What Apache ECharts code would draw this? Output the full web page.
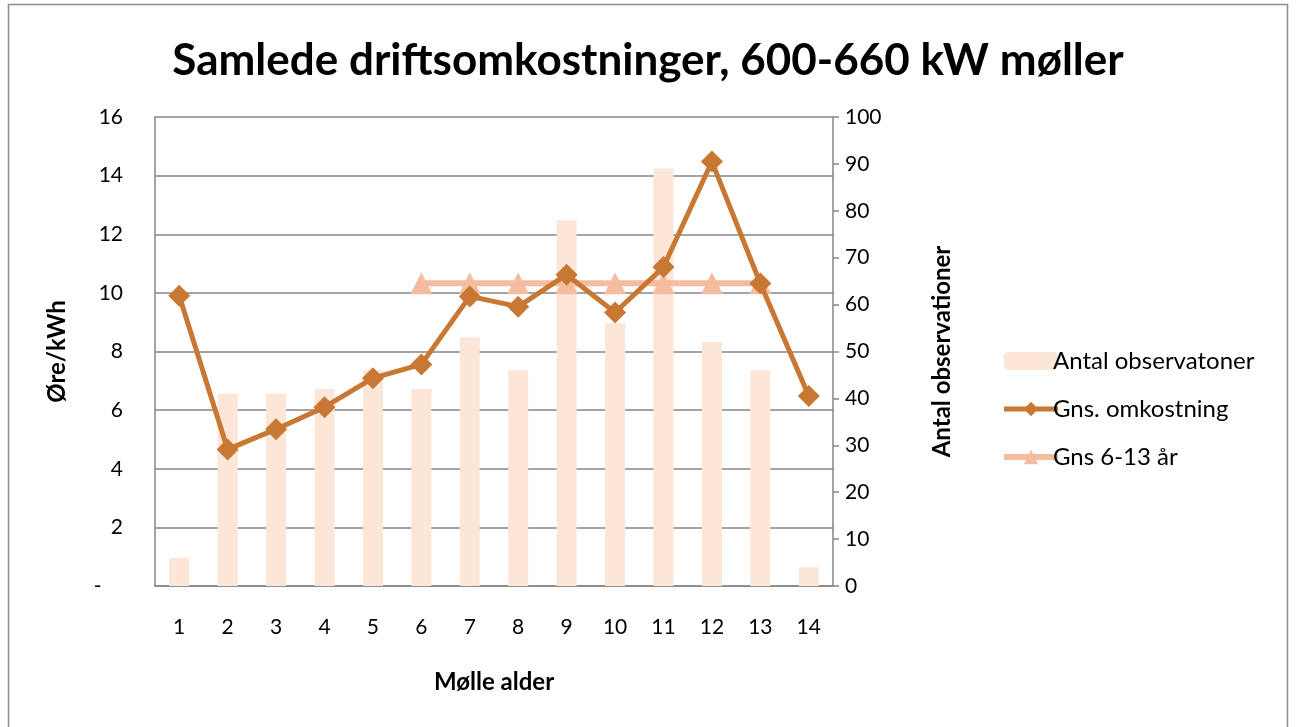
<!DOCTYPE html>
<html>
<head>
<meta charset="utf-8">
<script src="https://cdn.jsdelivr.net/npm/echarts@6/dist/echarts.min.js"></script>
<style>
  html, body { margin: 0; padding: 0; background: #fff; }
  #chart { width: 1296px; height: 727px; }
</style>
</head>
<body>
<div id="chart"></div>
<script>
// Mølle alder (år)
var ages = ['1', '2', '3', '4', '5', '6', '7', '8', '9', '10', '11', '12', '13', '14'];
// Antal observationer (højre akse)
var antalObs = [6, 41, 41, 42, 46, 42, 53, 46, 78, 56, 89, 52, 46, 4];
// Gns. omkostning, øre/kWh (venstre akse)
var gnsOmk = [9.9, 4.66, 5.35, 6.1, 7.09, 7.56, 9.88, 9.53, 10.62, 9.33, 10.88, 14.48, 10.32, 6.48];
// Gns 6-13 år
var gns613 = [null, null, null, null, null, 10.33, 10.33, 10.33, 10.33, 10.33, 10.33, 10.33, 10.33, null];

var font = 'Lato, "Open Sans", sans-serif';
var $e = echarts.init(document.getElementById('chart'));

var omkColor = '#C97834';
var gnsColor = '#F5BCA0';

var option = {
    backgroundColor: '#fff',
    textStyle: { fontFamily: font },
    title: {
        text: 'Samlede driftsomkostninger, 600-660 kW møller',
        left: 'center',
        top: 34,
        textStyle: { fontFamily: font, fontSize: 44, fontWeight: 'bold', color: '#000' }
    },
    graphic: [{
        type: 'rect',
        shape: { x: 8.5, y: 4.5, width: 1279, height: 730 },
        style: { fill: 'none', stroke: '#8c8c8c', lineWidth: 1.5 },
        silent: true
    }],
    legend: {
        orient: 'vertical',
        left: 996,
        top: 344,
        itemWidth: 54,
        itemHeight: 18,
        itemGap: 24,
        textStyle: { fontFamily: font, fontSize: 24, color: '#000', padding: [0, 0, 0, -10] },
        data: [
            { name: 'Antal observatoner', itemStyle: { color: '#FBE6D8' } },
            { name: 'Gns. omkostning', lineStyle: { width: 5, color: omkColor } },
            { name: 'Gns 6-13 år', lineStyle: { width: 6, color: gnsColor } }
        ]
    },
    grid: { left: 155, right: 463, top: 117, bottom: 141 },
    xAxis: {
        type: 'category',
        data: ages,
        name: 'Mølle alder',
        nameLocation: 'middle',
        nameGap: 84,
        nameTextStyle: { fontFamily: font, fontSize: 24, fontWeight: 'bold', color: '#000' },
        axisLine: { lineStyle: { color: '#868686', width: 1.5 } },
        axisTick: { show: false },
        axisLabel: { fontFamily: font, fontSize: 21, color: '#000', margin: 31 }
    },
    yAxis: [{
        type: 'value',
        min: 0, max: 16, interval: 2,
        name: 'Øre/kWh',
        nameLocation: 'middle',
        nameGap: 86,
        nameTextStyle: { fontFamily: font, fontSize: 24, fontWeight: 'bold', color: '#000' },
        axisLine: { show: true, lineStyle: { color: '#868686', width: 1.5 } },
        axisTick: { show: false },
        axisLabel: {
            fontFamily: font, fontSize: 21, color: '#000', margin: 32,
            formatter: function (v) { return v === 0 ? '-    ' : v; }
        },
        splitLine: { lineStyle: { color: '#868686', width: 1.5 } }
    }, {
        type: 'value',
        min: 0, max: 100, interval: 10,
        name: 'Antal observationer',
        nameLocation: 'middle',
        nameGap: 97,
        nameTextStyle: { fontFamily: font, fontSize: 24, fontWeight: 'bold', color: '#000' },
        axisLine: { show: true, lineStyle: { color: '#868686', width: 1.5 } },
        axisTick: { show: true, length: 6, lineStyle: { color: '#868686', width: 1.5 } },
        axisLabel: { fontFamily: font, fontSize: 21, color: '#000', margin: 12 },
        splitLine: { show: false }
    }],
    series: [{
        name: 'Antal observatoner',
        type: 'bar',
        yAxisIndex: 1,
        data: antalObs,
        barWidth: 20,
        itemStyle: { color: '#FBE6D8' },
        z: 1
    }, {
        name: 'Gns. omkostning',
        type: 'line',
        yAxisIndex: 0,
        data: gnsOmk,
        symbol: 'diamond',
        symbolSize: 22,
        lineStyle: { color: omkColor, width: 5 },
        itemStyle: { color: omkColor },
        z: 3
    }, {
        name: 'Gns 6-13 år',
        type: 'line',
        yAxisIndex: 0,
        data: gns613,
        symbol: 'triangle',
        symbolSize: 22,
        lineStyle: { color: gnsColor, width: 6 },
        itemStyle: { color: gnsColor },
        z: 2
    }],
    animation: false
};
$e.setOption(option);
window.onresize = function () {
    $e.resize();
};
</script>
</body>
</html>
